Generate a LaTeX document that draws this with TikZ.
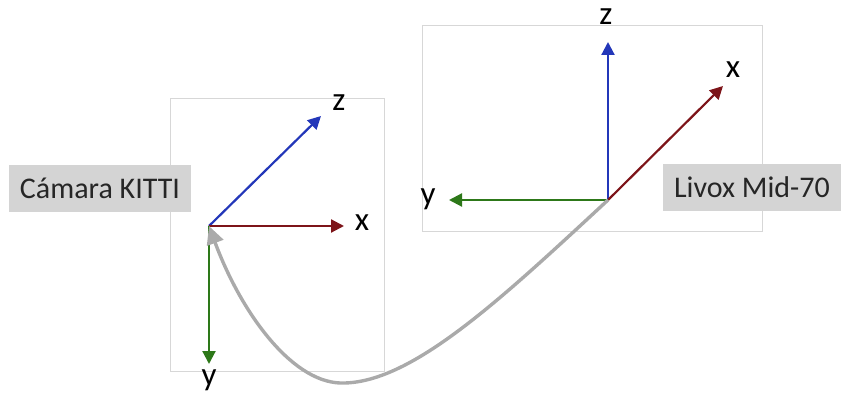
\documentclass[tikz,border=0pt]{standalone}
\usepackage{fontspec}
\setmainfont{Carlito}
\usetikzlibrary{arrows.meta}
\definecolor{axblue}{RGB}{35,55,185}
\definecolor{axred}{RGB}{125,20,25}
\definecolor{axgreen}{RGB}{45,120,25}
\definecolor{framegray}{RGB}{215,215,215}
\definecolor{labelgray}{RGB}{212,212,212}
\definecolor{curvegray}{RGB}{170,170,170}
\tikzset{
  axis/.style={line width=2.2pt,-{Triangle[length=13pt,width=13pt]}},
  frame/.style={draw=framegray,line width=1pt},
  tag/.style={fill=labelgray,inner xsep=11pt,inner ysep=0pt,minimum height=47pt,font=\fontsize{30}{34}\selectfont,text=black!85},
  axlabel/.style={font=\fontsize{33}{36}\selectfont,text=black,inner sep=0pt},
  link/.style={curvegray,line width=3.4pt,-{Stealth[length=18pt,width=17pt,inset=0pt]}}
}
\begin{document}
\begin{tikzpicture}[x=1pt,y=-1pt]
\useasboundingbox (0,0) rectangle (841,396);
% frames
\draw[frame] (170,98) rectangle (384,371);
\draw[frame] (422,26) rectangle (762,231);
% left camera frame
\coordinate (oL) at (209,226);
\coordinate (zL) at (321,116);
\coordinate (xL) at (344,226);
\coordinate (yL) at (209,364);
\draw[axis,axblue] (oL) -- (zL);
\draw[axis,axred] (oL) -- (xL);
\draw[axis,axgreen] (oL) -- (yL);
\node[axlabel] (lzL) at (339,103) {z};
\node[axlabel] (lxL) at (362,223) {x};
\node[axlabel] (lyL) at (209,380) {y};
% right lidar frame
\coordinate (oR) at (608,200);
\coordinate (zR) at (608,42);
\coordinate (xR) at (723,86);
\coordinate (yR) at (449,200);
\draw[axis,axblue] (oR) -- (zR);
\draw[axis,axred] (oR) -- (xR);
\draw[axis,axgreen] (oR) -- (yR);
\node[axlabel] (lzR) at (606,17) {z};
\node[axlabel] (lxR) at (733,70) {x};
\node[axlabel] (lyR) at (428,199) {y};
% labels
\node[tag] (cam) at (100,188) {Cámara KITTI};
\node[tag,anchor=east] (lidar) at (841,187) {Livox Mid-70};
% transform curve
\draw[link] (oR) .. controls (500,300) and (410,385) .. (340,383)
  .. controls (290,381) and (240,310) .. (oL);
\end{tikzpicture}
\end{document}
